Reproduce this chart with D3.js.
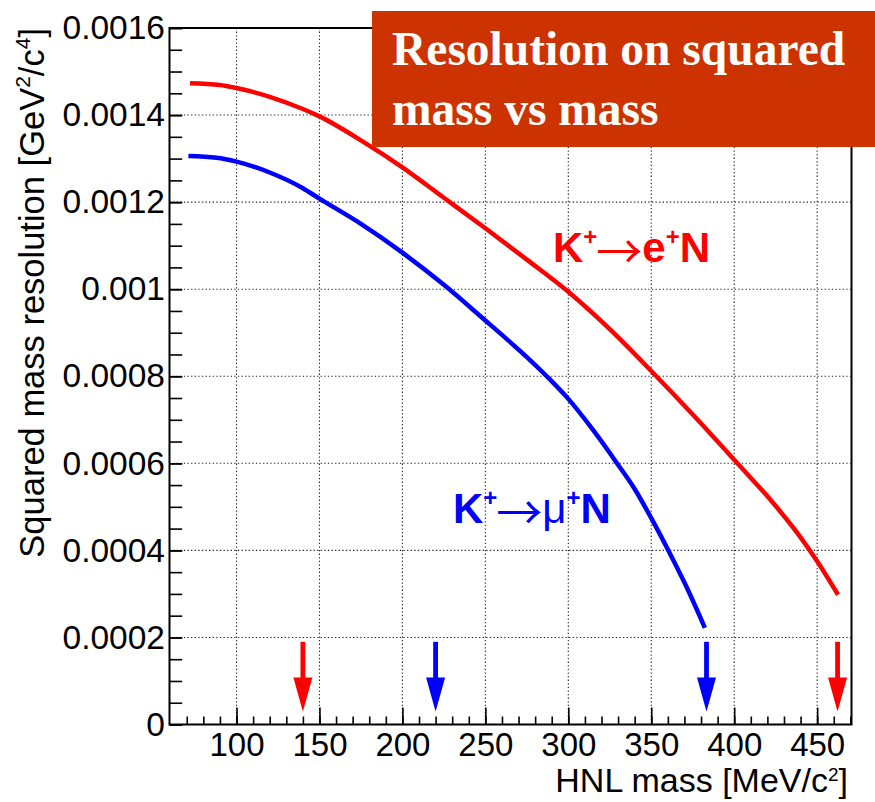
<!DOCTYPE html>
<html><head><meta charset="utf-8">
<script src="https://cdn.jsdelivr.net/npm/d3@7"></script>
<style>body{margin:0;background:#fff}svg{display:block}</style>
</head><body>
<script>
// ---- data ----
const eMass = [72, 90, 100, 120, 140, 150, 175, 200, 225, 250, 275, 300, 325, 350, 375, 400, 425, 440, 450, 462.6];
const eRes  = [0.001473, 0.001469, 0.001462, 0.001442, 0.001414, 0.001397, 0.001342, 0.001280, 0.001210, 0.001140, 0.001068, 0.000994, 0.000908, 0.000812, 0.000712, 0.000608, 0.000502, 0.000430, 0.000375, 0.000298];
const muMass = [71, 88, 100, 120, 140, 150, 175, 200, 225, 250, 262.7, 275, 287, 300, 315, 329, 340, 350, 360, 371, 382.3];
const muRes  = [0.001306, 0.001302, 0.001293, 0.001268, 0.001232, 0.001208, 0.001150, 0.001084, 0.001010, 0.000928, 0.000886, 0.000844, 0.000800, 0.000748, 0.000676, 0.000602, 0.000541, 0.000474, 0.000402, 0.000318, 0.000222];
const arrowMass = [140, 220, 383.3, 462.3];
const arrowSeries = ["e", "mu", "mu", "e"];
const arrowTop = 0.00019, arrowTip = 0.00003;
const xTickValues = [100, 150, 200, 250, 300, 350, 400, 450];
const xTickLabels = ["100", "150", "200", "250", "300", "350", "400", "450"];
const yTickValues = [0, 0.0002, 0.0004, 0.0006, 0.0008, 0.001, 0.0012, 0.0014, 0.0016];
const yTickLabels = ["0", "0.0002", "0.0004", "0.0006", "0.0008", "0.001", "0.0012", "0.0014", "0.0016"];
const xDomain = [59.6, 470.7];
const yDomain = [0, 0.0016];

// ---- layout / style ----
const W = 875, H = 802;
const L = 169.5, R = 851.5, T = 28, B = 724.5;
const colors = {e: "#ff0000", mu: "#0000ff"};
const FONT = "'Liberation Sans', Arial, Helvetica, sans-serif";

const svg = d3.select("body").append("svg").attr("width", W).attr("height", H);
svg.append("rect").attr("width", W).attr("height", H).attr("fill", "#fff");

const x = d3.scaleLinear().domain(xDomain).range([L, R]);
const y = d3.scaleLinear().domain(yDomain).range([B, T]);

// grid
const grid = svg.append("g").attr("stroke", "#222").attr("stroke-width", 1.1).attr("stroke-dasharray", "1.3,2.3");
grid.selectAll("line.vx").data(xTickValues).join("line")
  .attr("x1", d => x(d)).attr("x2", d => x(d)).attr("y1", T).attr("y2", B);
grid.selectAll("line.hy").data(yTickValues.filter(v => v > 0 && v < 0.0016)).join("line")
  .attr("y1", d => y(d)).attr("y2", d => y(d)).attr("x1", L).attr("x2", R);

// curves
const line = d3.line().x(d => x(d[0])).y(d => y(d[1])).curve(d3.curveMonotoneX);
const series = [
  {key: "e", pts: eMass.map((m, i) => [m, eRes[i]])},
  {key: "mu", pts: muMass.map((m, i) => [m, muRes[i]])}
];
svg.append("g").selectAll("path").data(series).join("path")
  .attr("d", d => line(d.pts)).attr("fill", "none")
  .attr("stroke", d => colors[d.key]).attr("stroke-width", 4.5)
  .attr("stroke-linejoin", "round");

// arrows
const ag = svg.append("g");
arrowMass.forEach((m, i) => {
  const c = colors[arrowSeries[i]];
  const xc = x(m), yT = y(arrowTop), yP = y(arrowTip), yb = yP - 34;
  ag.append("line").attr("x1", xc).attr("x2", xc).attr("y1", yT).attr("y2", yb + 4)
    .attr("stroke", c).attr("stroke-width", 4.8);
  ag.append("path").attr("d", `M${xc - 9.5},${yb} L${xc + 9.5},${yb} L${xc + 2},${yP - 7} L${xc},${yP} L${xc - 2},${yP - 7} Z`)
    .attr("fill", c);
});

// axes
function styleAxis(size) {
  return g => {
    g.select(".domain").remove();
    g.selectAll("line").attr("stroke", "#000").attr("stroke-width", 1.6);
    g.selectAll("text").attr("font-family", FONT).attr("font-size", size).attr("fill", "#000");
  };
}
svg.append("g").attr("transform", `translate(0,${B})`)
  .call(d3.axisBottom(x).tickValues(d3.range(70, 471, 10)).tickSize(-8).tickFormat(""))
  .call(styleAxis(33));
svg.append("g").attr("transform", `translate(0,${B})`)
  .call(d3.axisBottom(x).tickValues(xTickValues).tickSize(-17).tickPadding(8).tickFormat((d, i) => xTickLabels[i]))
  .call(styleAxis(33));
svg.append("g").attr("transform", `translate(${L},0)`)
  .call(d3.axisLeft(y).tickValues(d3.range(0, 33).map(i => i * 0.00005)).tickSize(-12.7).tickFormat(""))
  .call(styleAxis(33.5));
svg.append("g").attr("transform", `translate(${L},0)`)
  .call(d3.axisLeft(y).tickValues(yTickValues).tickSize(-12.7).tickPadding(4.5).tickFormat((d, i) => yTickLabels[i]))
  .call(styleAxis(33.5));

// frame
svg.append("rect").attr("x", L).attr("y", T).attr("width", R - L).attr("height", B - T)
  .attr("fill", "none").attr("stroke", "#000").attr("stroke-width", 2);

// axis titles
const xt = svg.append("text").attr("x", 848).attr("y", 792).attr("text-anchor", "end")
  .attr("font-family", FONT).attr("font-size", 34);
xt.append("tspan").text("HNL mass [MeV/c");
xt.append("tspan").attr("font-size", 19).attr("dy", -11).text("2");
xt.append("tspan").attr("dy", 11).text("]");

const yt = svg.append("text").attr("transform", "rotate(-90)").attr("x", -28).attr("y", 44)
  .attr("text-anchor", "end").attr("font-family", FONT).attr("font-size", 34.5);
yt.append("tspan").text("Squared mass resolution [GeV");
yt.append("tspan").attr("font-size", 21).attr("dy", -14).text("2");
yt.append("tspan").attr("dy", 14).text("/c");
yt.append("tspan").attr("font-size", 21).attr("dy", -14).text("4");
yt.append("tspan").attr("dy", 14).text("]");

// series labels
function decayLabel(px, py, lepton, key) {
  const t = svg.append("text").attr("x", px).attr("y", py).attr("font-family", FONT)
    .attr("font-size", 42).attr("font-weight", "bold").attr("fill", colors[key]);
  t.append("tspan").text("K");
  t.append("tspan").attr("font-size", 24).attr("dy", -17).text("+");
  t.append("tspan").attr("dy", 23).attr("dx", -1).attr("font-weight", "normal")
    .attr("font-family", "'Noto Sans CJK JP', 'DejaVu Sans', sans-serif").attr("font-size", 46).text("\u2192");
  t.append("tspan").attr("dy", -6).attr("font-weight", lepton === "\u03bc" ? "normal" : "bold").text(lepton);
  t.append("tspan").attr("font-size", 24).attr("dy", -17).text("+");
  t.append("tspan").attr("dy", 17).text("N");
}
decayLabel(553, 262, "e", "e");
decayLabel(453, 523, "\u03bc", "mu");

// title box
svg.append("rect").attr("x", 372).attr("y", 11).attr("width", 503).attr("height", 136).attr("fill", "#cc3300");
const tt = svg.append("text").attr("font-family", "'Liberation Serif', 'Times New Roman', serif")
  .attr("font-weight", "bold").attr("font-size", 47.5).attr("fill", "#fff");
tt.append("tspan").attr("x", 392).attr("y", 65).text("Resolution on squared");
tt.append("tspan").attr("x", 392).attr("y", 125).text("mass vs mass");
</script>
</body></html>
